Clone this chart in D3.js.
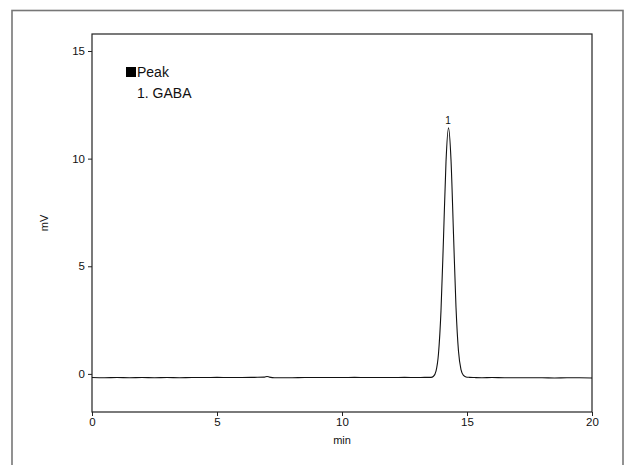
<!DOCTYPE html>
<html>
<head>
<meta charset="utf-8">
<script src="https://cdn.jsdelivr.net/npm/d3@7/dist/d3.min.js"></script>
<style>
  html, body { margin: 0; padding: 0; background: #fff; }
  svg { display: block; font-family: "Liberation Sans", Arial, sans-serif; }
</style>
</head>
<body>
<svg id="chart" width="627" height="465"></svg>
<script>
// ---- data ----
const times = [0, 0.5, 1, 1.5, 2, 2.5, 3, 3.5, 4, 4.5, 5, 5.5, 6, 6.5, 6.9, 7.0, 7.1, 7.3, 7.6, 8, 8.5, 9, 9.5, 10, 10.5, 11, 11.5, 12, 12.5, 13, 13.3, 13.56, 13.66, 13.76, 13.86, 13.96, 14.06, 14.16, 14.26, 14.36, 14.46, 14.56, 14.66, 14.76, 14.86, 14.96, 15.1, 15.3, 15.6, 16, 16.5, 17, 17.5, 18, 18.5, 19, 19.5, 20];
const mV    = [-0.17, -0.18, -0.17, -0.18, -0.17, -0.18, -0.17, -0.18, -0.17, -0.17, -0.16, -0.17, -0.17, -0.16, -0.15, -0.12, -0.15, -0.18, -0.18, -0.18, -0.17, -0.17, -0.17, -0.17, -0.16, -0.17, -0.17, -0.17, -0.16, -0.17, -0.16, -0.16, -0.11, 0.13, 0.95, 2.94, 6.30, 9.85, 11.43, 9.95, 6.5, 3.1, 1.05, 0.2, -0.07, -0.14, -0.16, -0.17, -0.18, -0.17, -0.18, -0.18, -0.18, -0.18, -0.19, -0.18, -0.18, -0.19];
const peakLabels = ["1"];
const peakTimes = [14.24];
const peakHeights = [11.43];
const legendTitle = "Peak";
const legendItems = ["1. GABA"];
const xTicks = [0, 5, 10, 15, 20];
const yTicks = [0, 5, 10, 15];
const xLabel = "min";
const yLabel = "mV";

// ---- layout ----
const svg = d3.select("#chart");
const L = 92, R = 592, T = 34, B = 412;

const x = d3.scaleLinear().domain([0, 20]).range([L, R]);
const y = d3.scaleLinear().domain([-1.77, 15.79]).range([B, T]);

// outer border
svg.append("rect")
  .attr("x", 12).attr("y", 10.5).attr("width", 611).attr("height", 470)
  .attr("fill", "none").attr("stroke", "#777").attr("stroke-width", 1.6);

// plot frame
svg.append("rect")
  .attr("x", L).attr("y", T).attr("width", R - L).attr("height", B - T)
  .attr("fill", "none").attr("stroke", "#222").attr("stroke-width", 1.2);

// axes
const xAxis = svg.append("g").attr("transform", `translate(0,${B})`)
  .call(d3.axisBottom(x).tickValues(xTicks).tickSize(4).tickPadding(2).tickFormat(d3.format("d")));
const yAxis = svg.append("g").attr("transform", `translate(${L},0)`)
  .call(d3.axisLeft(y).tickValues(yTicks).tickSize(4).tickPadding(3).tickFormat(d3.format("d")));
[xAxis, yAxis].forEach(g => {
  g.select(".domain").remove();
  g.selectAll("line").attr("stroke", "#222");
  g.selectAll("text").attr("font-size", 11.5).attr("fill", "#111")
    .attr("font-family", "'Liberation Sans', Arial, sans-serif");
});

// axis labels
svg.append("text").attr("x", (L + R) / 2).attr("y", 444)
  .attr("text-anchor", "middle").attr("font-size", 11).attr("fill", "#111").text(xLabel);
svg.append("text").attr("transform", `translate(48,${(T + B) / 2}) rotate(-90)`)
  .attr("text-anchor", "middle").attr("font-size", 11).attr("fill", "#111").text(yLabel);

// trace
const pts = times.map((t, i) => [t, mV[i]]);
svg.append("path").datum(pts)
  .attr("fill", "none").attr("stroke", "#111").attr("stroke-width", 1.1)
  .attr("d", d3.line().x(d => x(d[0])).y(d => y(d[1])).curve(d3.curveMonotoneX));

// peak labels
peakLabels.forEach((lab, i) => {
  svg.append("text").attr("x", x(peakTimes[i])).attr("y", y(peakHeights[i]) - 4)
    .attr("text-anchor", "middle").attr("font-size", 10).attr("fill", "#111").text(lab);
});

// legend
svg.append("rect").attr("x", 126).attr("y", 67).attr("width", 10).attr("height", 10).attr("fill", "#000");
svg.append("text").attr("x", 137).attr("y", 77).attr("font-size", 14).attr("fill", "#111").text(legendTitle);
legendItems.forEach((s, i) => {
  svg.append("text").attr("x", 137).attr("y", 98 + i * 20).attr("font-size", 14).attr("fill", "#111").text(s);
});
</script>
</body>
</html>
